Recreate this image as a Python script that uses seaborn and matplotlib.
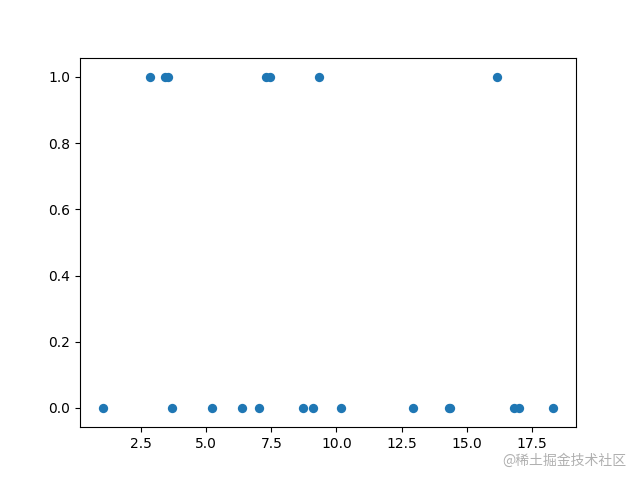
import matplotlib
matplotlib.use('Agg')
import matplotlib.pyplot as plt
import seaborn as sns

# data
x_pos = [2.86, 3.43, 3.55, 7.28, 7.43, 9.33, 16.18]
x_neg = [1.02, 3.68, 5.22, 6.38, 7.02, 8.72, 9.10, 10.17,
         12.95, 14.33, 14.36, 16.83, 17.01, 18.33]

x_vals = x_pos + x_neg
y_vals = [1] * len(x_pos) + [0] * len(x_neg)

fig, ax = plt.subplots(figsize=(6.4, 4.8), dpi=100)
sns.scatterplot(x=x_vals, y=y_vals, ax=ax, s=45, color='#1f77b4', linewidth=0)
ax.set_xlabel('')
ax.set_ylabel('')
ax.set_ylim(-0.058, 1.058)

fig.text(0.978, 0.026, '@稀土掘金技术社区', ha='right', va='bottom',
         fontsize=10, color='#b0b0b0',
         family=['Noto Sans CJK SC', 'DejaVu Sans'])

plt.savefig('out.png', dpi=100)
